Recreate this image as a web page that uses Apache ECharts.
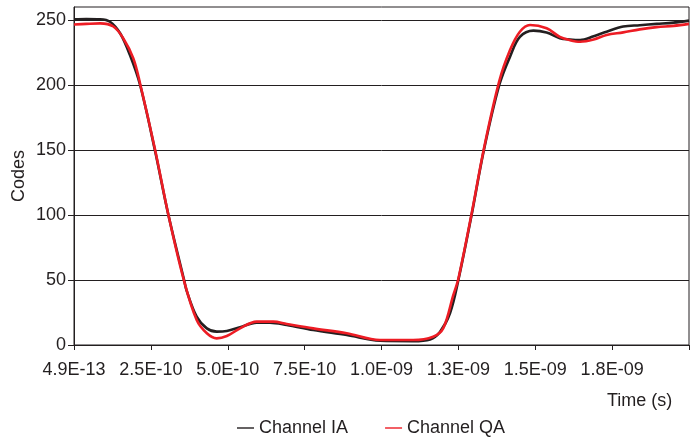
<!DOCTYPE html>
<html>
<head>
<meta charset="utf-8">
<script src="https://cdn.jsdelivr.net/npm/echarts@6/dist/echarts.min.js"></script>
<style>
html,body{margin:0;padding:0;background:#fff;}
#chart{width:691px;height:441px;}
</style>
</head>
<body>
<div id="chart"></div>
<script>
// Time values are in nanoseconds (axis labels show seconds)
var timeIA = [0, 0.04, 0.085, 0.117, 0.15, 0.182, 0.215, 0.263, 0.307, 0.358, 0.366, 0.399, 0.432, 0.464, 0.497, 0.54, 0.594, 0.637, 0.692, 0.778, 0.887, 0.995, 1.103, 1.158, 1.19, 1.223, 1.25, 1.293, 1.333, 1.383, 1.418, 1.45, 1.494, 1.537, 1.58, 1.613, 1.646, 1.69, 1.732, 1.786, 1.84, 1.895, 1.95, 2.0];
var codesIA = [250.5, 250.8, 250.6, 248.7, 239.8, 223, 200, 150, 100, 50, 42, 21.8, 12.8, 10.3, 10.8, 13.6, 17.2, 17.2, 15.4, 11.5, 7.7, 3.3, 3, 4.3, 10, 24.6, 50, 100, 150, 200, 221.8, 237, 241.8, 240.3, 236, 235, 234.6, 237.5, 241, 245, 246, 247, 248, 249.5];

var timeQA = [0, 0.04, 0.085, 0.128, 0.16, 0.193, 0.215, 0.263, 0.307, 0.356, 0.399, 0.432, 0.464, 0.497, 0.54, 0.594, 0.648, 0.692, 0.778, 0.887, 0.995, 1.103, 1.168, 1.201, 1.233, 1.25, 1.293, 1.333, 1.383, 1.418, 1.45, 1.483, 1.537, 1.58, 1.613, 1.646, 1.69, 1.732, 1.786, 1.84, 1.895, 1.95, 2.0];
var codesQA = [246.5, 247, 247.4, 245, 236, 220.5, 201, 151, 100, 51, 19.2, 9, 5.1, 6.9, 12.8, 18, 18, 16.2, 12.8, 9, 3.8, 3.8, 6.4, 13, 38, 51, 101, 151, 203, 226.9, 241, 246.2, 243.6, 237, 234.5, 233.3, 235, 238.5, 240.5, 242.8, 244.5, 245.5, 247];

var xTickLabels = ['4.9E-13', '2.5E-10', '5.0E-10', '7.5E-10', '1.0E-09', '1.3E-09', '1.5E-09', '1.8E-09', ''];
var yTicks = [0, 50, 100, 150, 200, 250];
var seriesNames = ['Channel IA', 'Channel QA'];

function pairs(t, v) {
  var out = [];
  for (var i = 0; i < t.length; i++) out.push([t[i], v[i]]);
  return out;
}

var textColor = '#231f20';
var font = 'Liberation Sans, Arial, Helvetica, sans-serif';

var chart = echarts.init(document.getElementById('chart'), null, {renderer: 'canvas'});
chart.setOption({
  backgroundColor: '#ffffff',
  animation: false,
  title: {
    text: 'Time (s)',
    left: 602,
    top: 387,
    textStyle: {fontSize: 18, fontWeight: 'normal', color: textColor, fontFamily: font}
  },
  legend: {
    data: seriesNames,
    left: 237,
    top: 419,
    icon: 'rect',
    itemWidth: 17,
    itemHeight: 1.4,
    itemGap: 37,
    padding: 0,
    textStyle: {fontSize: 18, color: textColor, fontFamily: font}
  },
  grid: {
    left: 74, right: 2, top: 7, bottom: 96,
    show: true, borderColor: textColor, borderWidth: 1,
    containLabel: false,
    outerBoundsMode: 'none'
  },
  xAxis: {
    type: 'value',
    min: 0, max: 2, interval: 0.25,
    axisLine: {show: true, lineStyle: {color: textColor, width: 1}},
    axisTick: {show: true, length: 5, lineStyle: {color: textColor}},
    splitLine: {show: false},
    axisLabel: {
      fontSize: 18, color: textColor, fontFamily: font, margin: 16,
      formatter: function (v) {
        var i = Math.round(v / 0.25);
        return xTickLabels[i] !== undefined ? xTickLabels[i] : '';
      }
    }
  },
  yAxis: {
    type: 'value',
    min: 0, max: 260,
    name: 'Codes',
    nameLocation: 'middle',
    nameRotate: 90,
    nameGap: 46,
    nameMoveOverlap: false,
    nameTextStyle: {fontSize: 18, color: textColor, fontFamily: font},
    axisLine: {show: true, lineStyle: {color: textColor, width: 1}},
    axisTick: {show: true, length: 6, customValues: yTicks, lineStyle: {color: textColor}},
    splitLine: {show: true, lineStyle: {color: textColor, width: 1}},
    axisLabel: {fontSize: 18, color: textColor, fontFamily: font, margin: 8, customValues: yTicks}
  },
  series: [
    {
      name: seriesNames[0],
      type: 'line',
      data: pairs(timeIA, codesIA),
      symbol: 'none',
      smooth: 0.35,
      lineStyle: {color: '#231f20', width: 2.6},
      itemStyle: {color: '#231f20'}
    },
    {
      name: seriesNames[1],
      type: 'line',
      data: pairs(timeQA, codesQA),
      symbol: 'none',
      smooth: 0.35,
      lineStyle: {color: '#ed1c24', width: 2.6},
      itemStyle: {color: '#ed1c24'}
    }
  ]
});
</script>
</body>
</html>
